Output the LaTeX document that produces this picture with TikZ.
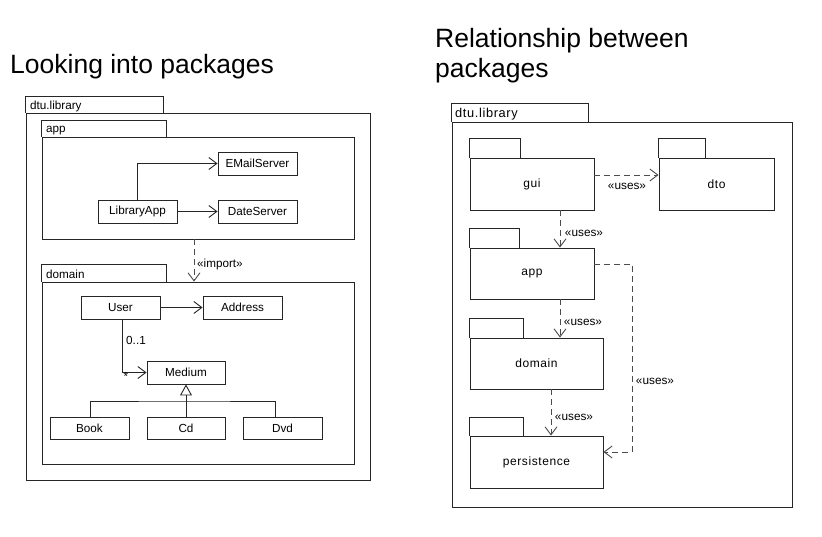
\documentclass[tikz,border=0pt]{standalone}
\usepackage{fontspec}
\setmainfont{Liberation Sans}
\newfontfamily\spacedsans[LetterSpace=5]{Liberation Sans}
\usetikzlibrary{arrows.meta,calc}
\begin{document}
\begin{tikzpicture}[x=1pt,y=-1pt,
  ln/.style={draw=black!85, line width=0.9pt},
  box/.style={ln, inner sep=0pt, font=\fontsize{11.7}{13}\selectfont},
  lbl/.style={inner sep=0pt, font=\fontsize{11.7}{13}\selectfont},
  rbox/.style={ln, inner sep=0pt, font=\spacedsans\fontsize{12}{14}\selectfont},
  rlbl/.style={inner sep=0pt, font=\fontsize{11.8}{13}\selectfont},
  ttl/.style={inner sep=0pt, font=\fontsize{26.5}{29.5}\selectfont, align=left},
  open/.style={-{Straight Barb[length=8pt,width=12pt,line width=0.9pt]}},
  dep/.style={draw=black!70, line width=0.9pt, dash pattern=on 6pt off 4pt, open},
  gen/.style={ln, -{Triangle[open,length=11pt,width=12pt,line width=0.9pt]}},
]
\useasboundingbox[fill=white] (0,0) rectangle (822,536);

% ---------- left: Looking into packages ----------
\node[ttl, anchor=base west] (t1) at (10,73) {Looking into packages};

\node[box, minimum width=344pt, minimum height=367pt] (L) at (198,296.5) {};
\draw[ln] (L.north west) -- ++(0,-16) -- ++(138,0) -- ++(0,16);
\node[lbl, anchor=base west] (Lt) at (30,109) {dtu.library};

\node[box, minimum width=312pt, minimum height=102pt] (appb) at (198,188) {};
\draw[ln] (appb.north west) -- ++(0,-16) -- ++(125,0) -- ++(0,16);
\node[lbl, anchor=base west] (appt) at (46,132) {app};

\node[box, minimum width=79pt, minimum height=23pt] (email) at (257.5,163.5) {EMailServer};
\node[box, minimum width=79pt, minimum height=23pt] (date) at (257.5,211.5) {DateServer};
\node[box, minimum width=79pt, minimum height=23pt] (lib) at (137.5,211.5) {LibraryApp};
\draw[ln, open] (lib.north) |- (email.west);
\draw[ln, open] (lib.east) -- (date.west);

\node[box, minimum width=312pt, minimum height=182pt] (domb) at (198,373) {};
\draw[ln] (domb.north west) -- ++(0,-17) -- ++(125,0) -- ++(0,17);
\node[lbl, anchor=base west] (domt) at (46,278) {domain};

\draw[dep] ([xshift=-4]appb.south) -- ([xshift=-4]appb.south |- domb.north);
\node[lbl, anchor=west] (imp) at (197,264) {«import»};

\node[box, minimum width=79pt, minimum height=23pt] (user) at (120.5,307.5) {User};
\node[box, minimum width=79pt, minimum height=23pt] (addr) at (242.5,307.5) {Address};
\node[box, minimum width=78pt, minimum height=23pt] (med) at (186,372.5) {Medium};
\draw[ln, open] (user.east) -- (addr.west);
\draw[ln, open] ([xshift=1.5]user.south) |- (med.west);
\node[lbl] (m1) at (136,340) {0..1};
\node[lbl] (m2) at (126,376) {*};

\node[box, minimum width=79pt, minimum height=22pt] (book) at (89.5,428) {Book};
\node[box, minimum width=78pt, minimum height=22pt] (cd) at (186,428) {Cd};
\node[box, minimum width=79pt, minimum height=22pt] (dvd) at (282.5,428) {Dvd};
\coordinate (hub) at (186,401);
\draw[gen] (cd.north) -- (med.south);
\draw[ln] ([xshift=0.5]book.north) |- (hub) -| ([xshift=-7.5]dvd.north);

% ---------- right: Relationship between packages ----------
\node[ttl, anchor=base west] (t2) at (435,77) {Relationship between\\packages};

\node[rbox, minimum width=340pt, minimum height=385pt] (R) at (622,314.5) {};
\draw[ln] (R.north west) -- ++(0,-18) -- ++(137,0) -- ++(0,18);
\node[inner sep=0pt, font=\spacedsans\fontsize{12.8}{14}\selectfont, anchor=base west] (Rt) at (455,117.5) {dtu.library};

\node[rbox, minimum width=124pt, minimum height=52pt] (gui) at (532,184) {gui};
\draw[ln] (gui.north west) -- ++(0,-19) -- ++(51,0) -- ++(0,19);
\node[rbox, minimum width=115pt, minimum height=52pt] (dto) at (716.5,184) {dto};
\draw[ln] (dto.north west) -- ++(0,-19) -- ++(47,0) -- ++(0,19);
\node[rbox, minimum width=124pt, minimum height=51pt] (rapp) at (532,273.5) {app};
\draw[ln] (rapp.north west) -- ++(0,-19) -- ++(50,0) -- ++(0,19);
\node[rbox, minimum width=133pt, minimum height=51pt] (rdom) at (536.5,363.5) {domain};
\draw[ln] (rdom.north west) -- ++(0,-19) -- ++(54,0) -- ++(0,19);
\node[rbox, minimum width=133pt, minimum height=52pt] (pers) at (536.5,462) {persistence};
\draw[ln] (pers.north west) -- ++(0,-18) -- ++(54,0) -- ++(0,18);

\draw[dep] ([yshift=9]gui.east) -- ([yshift=9]gui.east -| dto.west);
\node[rlbl] (u1) at (627,186) {«uses»};
\draw[dep] ([xshift=28]gui.south) -- ([xshift=28]rapp.north);
\node[rlbl] (u2) at (584,233) {«uses»};
\draw[dep] ([xshift=28]rapp.south) -- ([xshift=28]rapp.south |- rdom.north);
\node[rlbl] (u3) at (583,322) {«uses»};
\draw[dep] ([xshift=14.5]rdom.south) -- ([xshift=14.5]pers.north);
\node[rlbl] (u4) at (574,417) {«uses»};
\draw[dep] ([yshift=9.5]rapp.east) -- ++(38,0) |- ([yshift=10]pers.east);
\node[rlbl] (u5) at (655,381) {«uses»};
\end{tikzpicture}
\end{document}
